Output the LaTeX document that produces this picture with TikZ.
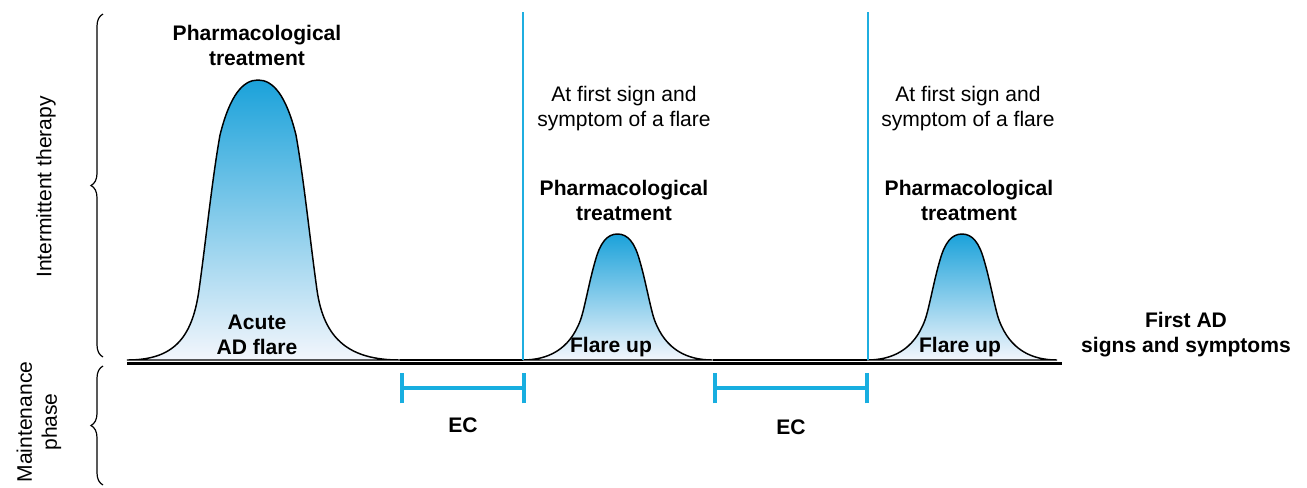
\documentclass[tikz,border=0pt]{standalone}
\usepackage{fontspec}
\setmainfont{Liberation Sans}
\usetikzlibrary{decorations.pathreplacing}
\definecolor{peakblue}{HTML}{1BA2DA}
\definecolor{basewhite}{HTML}{F3F6FC}
\definecolor{ecblue}{HTML}{18AEE0}
\definecolor{linecyan}{HTML}{1FAEE0}
\tikzset{
  lbl/.style={font=\fontsize{15.8}{18.8}\selectfont, align=center, inner sep=0pt, text=black},
  blbl/.style={lbl, font=\fontsize{15.8}{18.8}\selectfont\bfseries},
  flare/.style={draw=black, line width=1.1pt, top color=peakblue, bottom color=basewhite},
  vline/.style={draw=linecyan, line width=1.3pt},
  ecbar/.style={draw=ecblue, line width=3pt},
  bracestyle/.style={draw=black, line width=0.9pt, decorate, decoration={brace, amplitude=9pt}}
}
\newcommand{\smallbumppath}{(-95,0) .. controls (-70,0) and (-48,-10) .. (-37,-40)
  .. controls (-33,-51) and (-28,-80) .. (-22,-100)
  .. controls (-17,-118) and (-10,-126) .. (0,-126)
  .. controls (10,-126) and (17,-118) .. (22,-100)
  .. controls (28,-80) and (33,-51) .. (37,-40)
  .. controls (48,-10) and (70,0) .. (95,0)}
\begin{document}
\begin{tikzpicture}[x=0.75pt, y=-0.75pt]
\useasboundingbox (0,0) rectangle (1307,487);

% big flare
\draw[flare] (127,360) .. controls (172,360) and (192,340) .. (199,290)
  .. controls (206,240) and (212,180) .. (220,135)
  .. controls (230,95) and (243,80) .. (258,80)
  .. controls (273,80) and (286,95) .. (296,135)
  .. controls (304,180) and (310,240) .. (317,290)
  .. controls (324,340) and (350,360) .. (400,360) -- cycle;
% small flares
\begin{scope}[shift={(617.5,360)}]
  \draw[flare] \smallbumppath -- cycle;
\end{scope}
\begin{scope}[shift={(962,360)}]
  \draw[flare] \smallbumppath -- cycle;
\end{scope}
\draw[black, line width=1.1pt] (400,360) -- (522.5,360) (712.5,360) -- (867,360);
\draw[black, line width=1.6pt] (127,363.5) -- (1062,363.5);

% vertical cyan lines
\coordinate (v1top) at (523,12);
\coordinate (v1bot) at (523,360);
\coordinate (v2top) at (868,12);
\coordinate (v2bot) at (868,360);
\draw[vline] (v1top) -- (v1bot);
\draw[vline] (v2top) -- (v2bot);

% EC bars
\coordinate (ec1a) at (402,388);
\coordinate (ec1b) at (524,388);
\coordinate (ec2a) at (715,388);
\coordinate (ec2b) at (867,388);
\draw[ecbar] (ec1a) -- (ec1b);
\draw[ecbar] ([yshift=-11.5]ec1a) -- ([yshift=11.5]ec1a);
\draw[ecbar] ([yshift=-11.5]ec1b) -- ([yshift=11.5]ec1b);
\draw[ecbar] (ec2a) -- (ec2b);
\draw[ecbar] ([yshift=-11.5]ec2a) -- ([yshift=11.5]ec2a);
\draw[ecbar] ([yshift=-11.5]ec2b) -- ([yshift=11.5]ec2b);
\node[blbl] (ec1) at (463,425) {EC};
\node[blbl] (ec2) at (791,427) {EC};

% braces
\draw[bracestyle] (103,357) -- (103,14);
\draw[bracestyle] (103,485) -- (103,366);
\node[lbl, rotate=90] (inter) at (46,187) {Intermittent therapy};
\node[lbl, rotate=90] (maint) at (39,422) {Maintenance\\phase};

% labels
\node[blbl] (pt1) at (257,45) {Pharmacological\\treatment};
\node[blbl] (acute) at (257,335) {Acute\\AD flare};
\node[lbl] (sign1) at (624,109) {At first sign and\\symptom of a flare};
\node[blbl] (pt2) at (624,200) {Pharmacological\\treatment};
\node[blbl] (fu1) at (611,347) {Flare up};
\node[lbl] (sign2) at (968,109) {At first sign and\\symptom of a flare};
\node[blbl] (pt3) at (969,200) {Pharmacological\\treatment};
\node[blbl] (fu2) at (960,347) {Flare up};
\node[blbl] (first) at (1186,335) {First AD\\signs and symptoms};
\end{tikzpicture}
\end{document}
